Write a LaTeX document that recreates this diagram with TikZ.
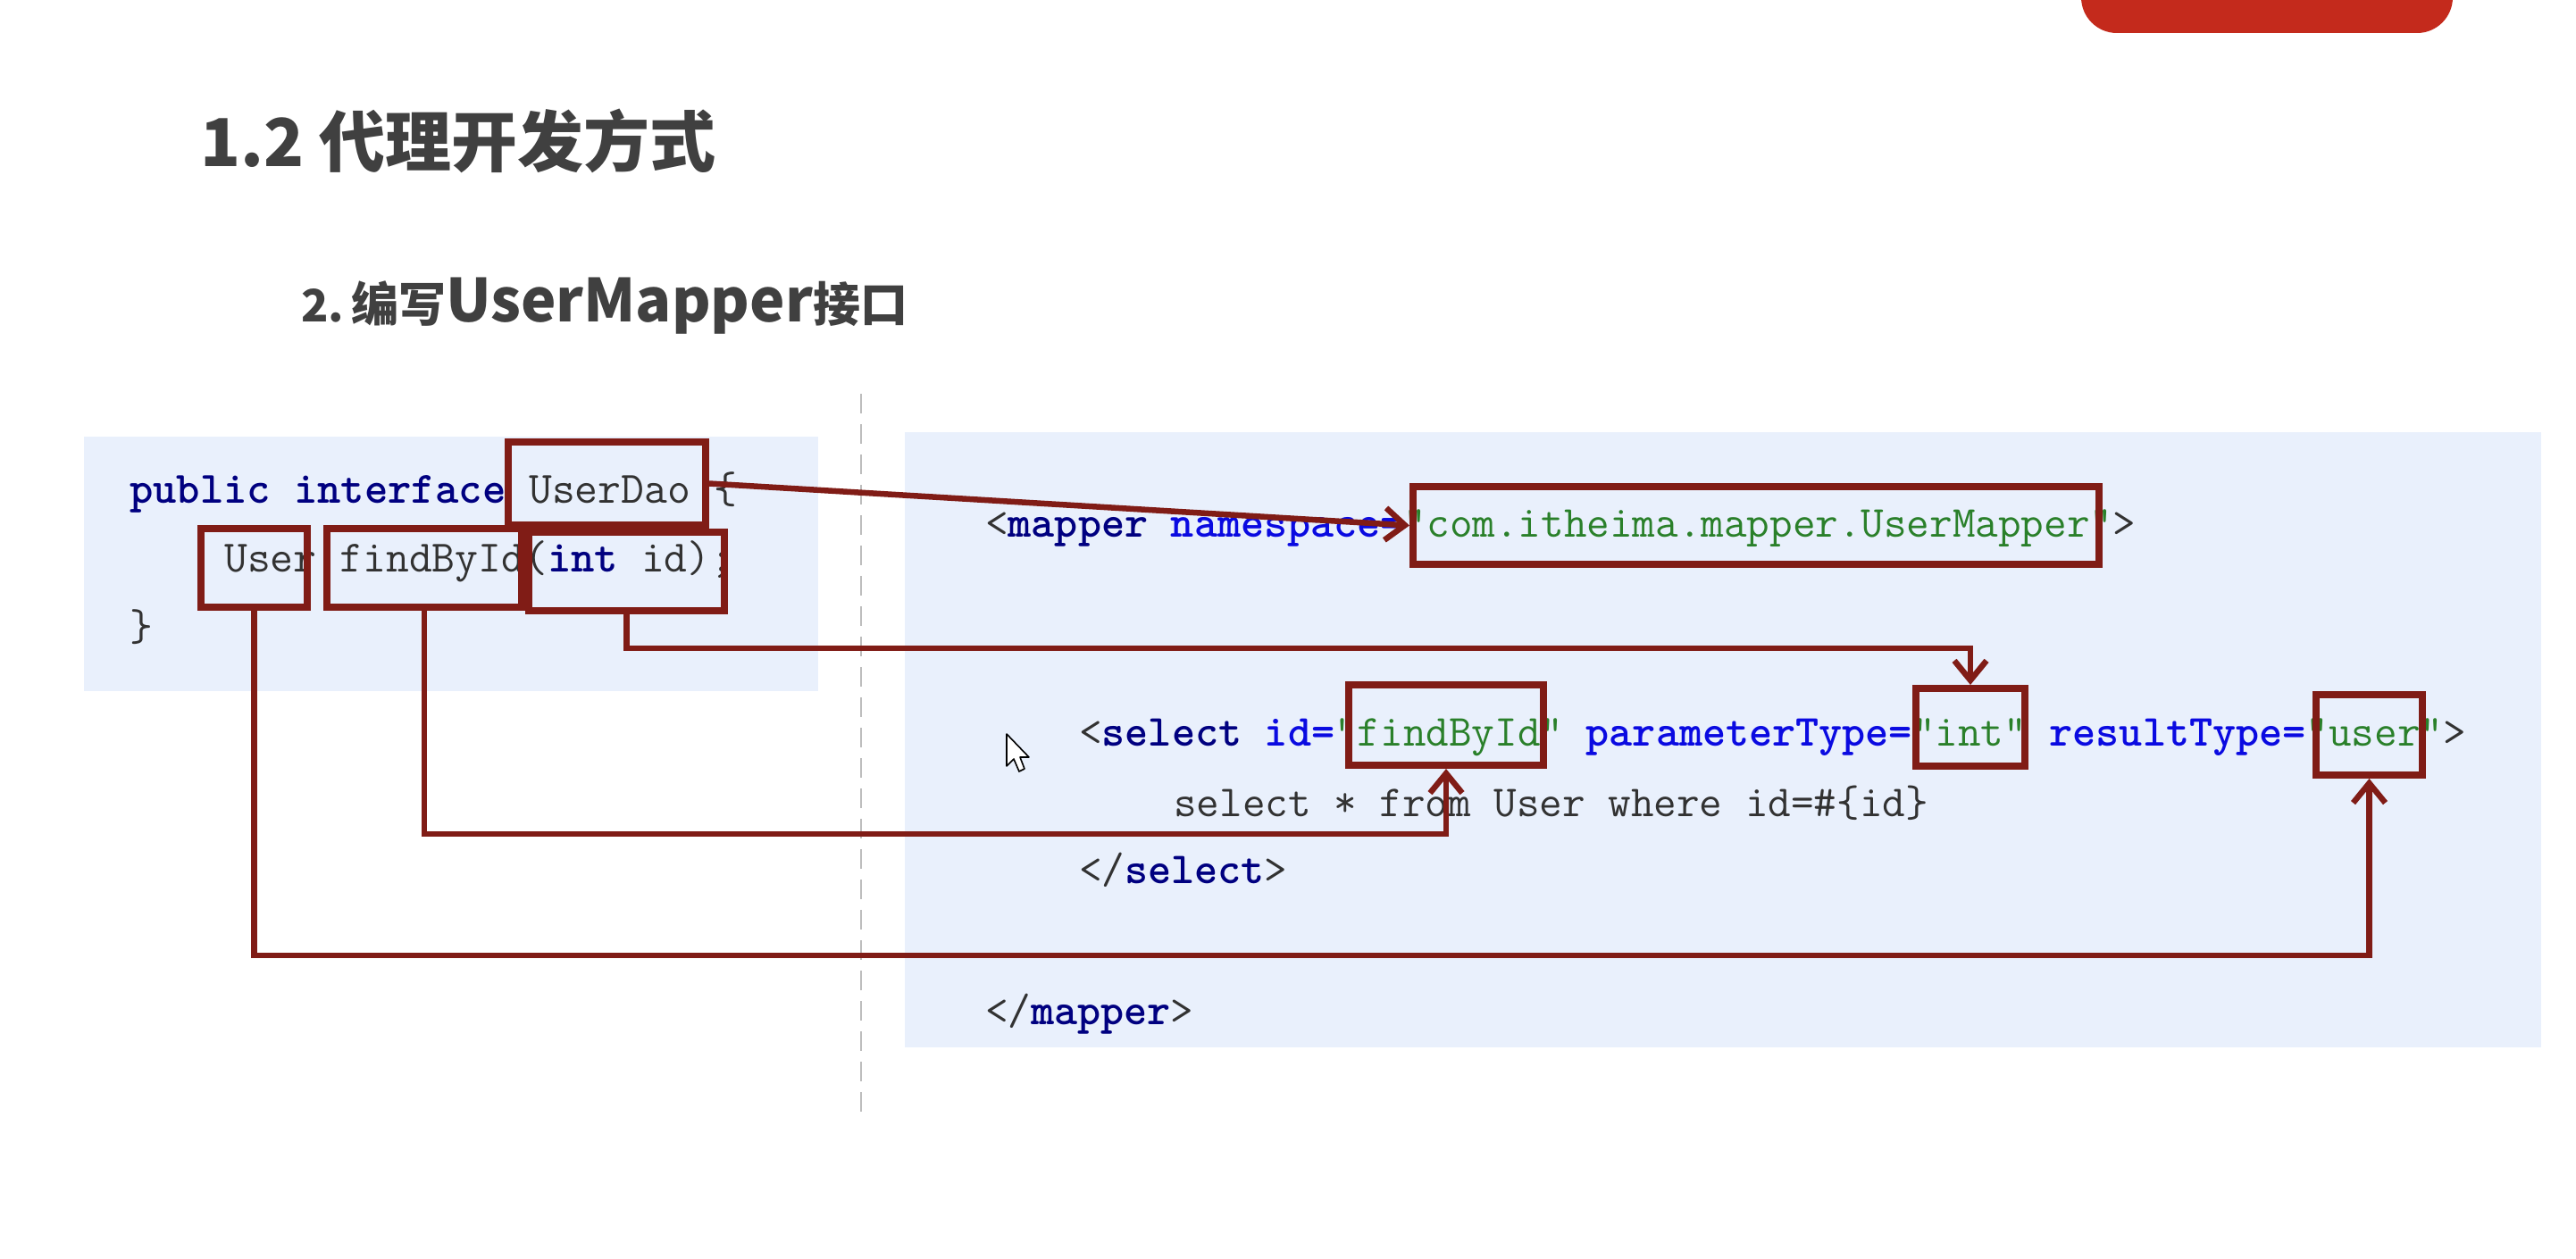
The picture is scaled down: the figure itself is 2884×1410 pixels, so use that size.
\documentclass[tikz,border=0pt]{standalone}
\usepackage{fontspec}
\newfontfamily\cjk{Noto Sans CJK SC}
\usetikzlibrary{arrows.meta,calc}
\definecolor{bgblue}{RGB}{233,240,252}
\definecolor{boxred}{RGB}{128,28,22}
\definecolor{btnred}{RGB}{196,42,28}
\definecolor{headgray}{RGB}{64,64,64}
\definecolor{kwnavy}{RGB}{0,0,128}
\definecolor{attblue}{RGB}{10,10,225}
\definecolor{valgreen}{RGB}{42,128,42}
\definecolor{plaingray}{RGB}{50,50,50}
\definecolor{sepgray}{RGB}{190,190,190}
\newcommand\kwd[1]{{\bfseries\color{kwnavy}#1}}
\newcommand\att[1]{{\bfseries\color{attblue}#1}}
\newcommand\val[1]{{\color{valgreen}#1}}
\begin{document}
\begin{tikzpicture}[x=1pt,y=-1pt,
  code/.style={anchor=base west, inner sep=0pt, text=plaingray,
    font=\ttfamily\fontsize{49.7}{49.7}\selectfont},
  lcode/.style={code, font=\ttfamily\fontsize{50.2}{50.2}\selectfont},
  head/.style={anchor=base west, inner sep=0pt, text=headgray},
  redbox/.style={draw=boxred, line width=8pt, anchor=north west, inner sep=0pt},
  conn/.style={draw=boxred, line width=6.5pt,
    -{Straight Barb[length=22pt,width=36pt,line width=6.5pt]}},
  panel/.style={fill=bgblue}
]
\useasboundingbox (0,0) rectangle (2884,1410);
\clip (0,0) rectangle (2884,1410);
\fill[white] (0,0) rectangle (2884,1410);

% red button (cut off at top)
\fill[btnred, rounded corners=40pt] (2330,-60) rectangle (2746,37);

% headings
\node[head] (title) at (224,186)
  {\cjk\bfseries\fontsize{74}{74}\selectfont 1.2 代理开发方式};
\node[head] (sub) at (337,360)
  {\cjk\bfseries\fontsize{53}{53}\selectfont {\fontsize{50}{50}\selectfont 2.}\kern8pt 编写{\fontsize{66.5}{66.5}\selectfont UserMapper}接口};

% panels
\fill[panel] (94,489) rectangle (916,774);
\fill[panel] (1013,484) rectangle (2845,1173);
\draw[sepgray, line width=2.5pt, dash pattern=on 22pt off 12pt] (964,441) -- (964,1245);

% left code
\node[lcode] (l1) at (145,563) {\kwd{public} \kwd{interface} UserDao \{};
\node[lcode] (l2) at (251,640) {User findById(\kwd{int} id);};
\node[lcode] (l3) at (145,717) {\}};

% right code
\node[code] (r1) at (1103,601) {<\kwd{mapper} \att{namespace=}\val{"com.itheima.mapper.UserMapper"}>};
\node[code] (r2) at (1208,835) {<\kwd{select} \att{id=}\val{"findById"} \att{parameterType=}\val{"int"} \att{resultType=}\val{"user"}>};
\node[code] (r3) at (1314,914) {select * from User where id=\#\{id\}};
\node[code] (r4) at (1208,989) {</\kwd{select}>};
\node[code] (r5) at (1103,1147) {</\kwd{mapper}>};

% mouse cursor
\draw[black, line width=1.6pt, fill=white, line join=round]
  (1127,822) -- (1127,858) -- (1135,850) -- (1141,864) -- (1147,861)
  -- (1142,848) -- (1152,848) -- cycle;

% red boxes
\node[redbox, minimum width=221pt, minimum height=93pt] (udao) at (565,491) {};
\node[redbox, minimum width=119pt, minimum height=88pt] (user) at (221,588) {};
\node[redbox, minimum width=218pt, minimum height=88pt] (fbl) at (362,588) {};
\node[redbox, minimum width=219pt, minimum height=88pt] (intid) at (588,592) {};
\node[redbox, minimum width=768pt, minimum height=87pt] (ns) at (1578,541) {};
\node[redbox, minimum width=218pt, minimum height=90pt] (fbr) at (1506,763) {};
\node[redbox, minimum width=122pt, minimum height=87pt] (intv) at (2141,767) {};
\node[redbox, minimum width=119pt, minimum height=90pt] (userv) at (2589,774) {};

% connectors
\coordinate (lane1) at (0,726);
\coordinate (lane2) at (0,934);
\coordinate (lane3) at (0,1070);
\draw[conn] (udao.east) -- (ns.west);
\draw[conn] (intid.south) |- (intv.north |- lane1) -- (intv.north);
\draw[conn] (fbl.south) |- (fbr.south |- lane2) -- (fbr.south);
\draw[conn] (user.south) |- (userv.south |- lane3) -- (userv.south);
\end{tikzpicture}
\end{document}
